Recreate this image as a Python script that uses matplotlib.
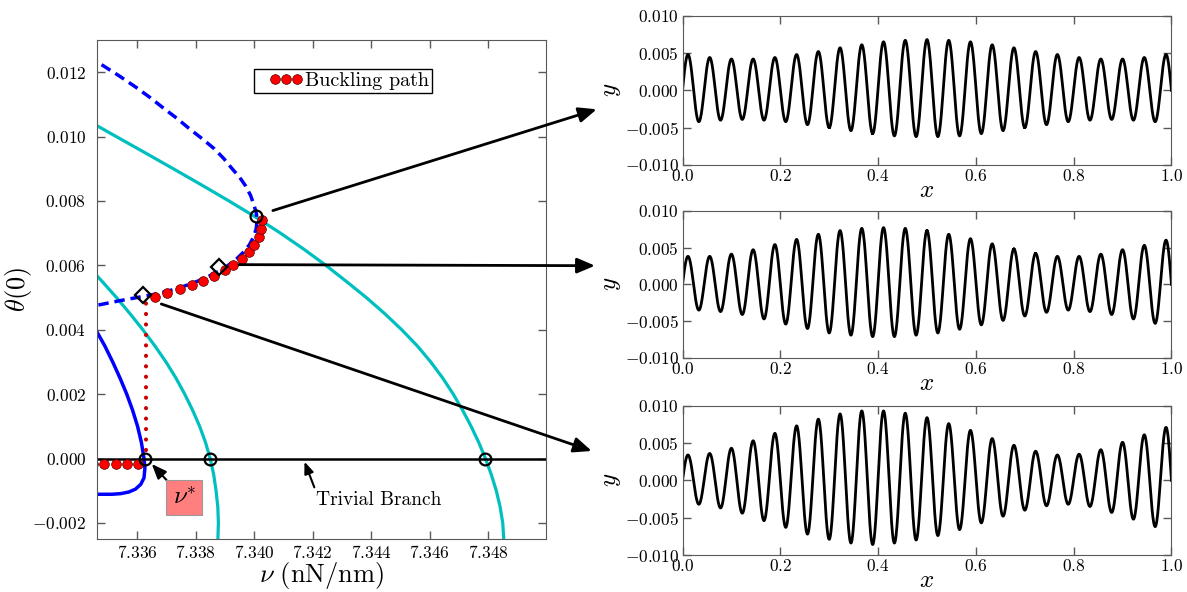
import numpy as np
import matplotlib
matplotlib.use("Agg")
import matplotlib.pyplot as plt
from matplotlib.ticker import FuncFormatter, MultipleLocator
from matplotlib.patches import ConnectionPatch
from matplotlib.legend_handler import HandlerLine2D

plt.rcParams['mathtext.fontset'] = 'cm'
plt.rcParams['font.family'] = 'serif'
plt.rcParams['font.serif'] = ['cmr10', 'DejaVu Serif']
plt.rcParams['axes.formatter.use_mathtext'] = True

trivial_pts = [7.33627, 7.3385, 7.3479]  # cerchi sul ramo banale

buck_nu = [7.33660, 7.33703, 7.33748, 7.33787, 7.33826, 7.33864, 7.33899,
           7.33928, 7.33957, 7.33982, 7.33999, 7.34015, 7.34022, 7.34027]
buck_th = [0.005008, 0.005132, 0.005257, 0.005390, 0.005505, 0.005670, 0.005857,
           0.006012, 0.006199, 0.006426, 0.006635, 0.006893, 0.007132, 0.007421]
flat_nu = [7.3345, 7.33489, 7.33528, 7.33567, 7.33605]
flat_th = [-0.000177] * 5
vert_nu = [7.33632, 7.33632]
vert_th = [0.00025, 0.00490]

# ramo instabile (tratteggiato)
dash_nu = [7.33479, 7.33540, 7.33595, 7.33645, 7.33693, 7.33737, 7.33779, 7.33823,
           7.33864, 7.33897, 7.33925, 7.33950, 7.33970, 7.33988, 7.34000, 7.34008,
           7.34010, 7.34007, 7.33998, 7.33984, 7.33965, 7.33940, 7.33910, 7.33880,
           7.33845, 7.33805, 7.33760, 7.33710, 7.33660, 7.33600, 7.33540, 7.33464]
dash_th = [0.012233, 0.011880, 0.011540, 0.011210, 0.010865, 0.010560, 0.010243,
           0.009930, 0.009621, 0.009310, 0.008999, 0.008740, 0.008480, 0.008170,
           0.007860, 0.007600, 0.007380, 0.007130, 0.006880, 0.006640, 0.006420,
           0.006200, 0.005990, 0.005820, 0.005660, 0.005500, 0.005350, 0.005210,
           0.005100, 0.005000, 0.004900, 0.004760]

blue_nu = [7.33464, 7.33490, 7.33517, 7.33542, 7.33565, 7.33585, 7.33602, 7.33615,
           7.33624, 7.33627, 7.33624, 7.33613, 7.33595, 7.33572, 7.33545, 7.33515,
           7.33464]
blue_th = [0.00392, 0.0035, 0.0030, 0.0025, 0.0020, 0.0015, 0.0010, 0.0005, 0.0,
           -0.0003, -0.0006, -0.0008, -0.00095, -0.00104, -0.00109, -0.00111, -0.00111]

cyan1_th = [0.0058, 0.0055, 0.0050, 0.0045, 0.0040, 0.0035, 0.0030, 0.0025, 0.0020,
            0.0015, 0.0010, 0.0005, 0.0, -0.0005, -0.0010, -0.0015, -0.0020, -0.0026]
cyan1_nu = [7.33451, 7.33481, 7.33530, 7.33576, 7.33620, 7.33661, 7.33699, 7.33733,
            7.33763, 7.33790, 7.33814, 7.33834, 7.33850, 7.33862, 7.33870, 7.33876,
            7.33878, 7.33876]
cyan2_th = [0.0104, 0.0100, 0.0095, 0.0090, 0.0085, 0.0080, 0.0075, 0.0070, 0.0065,
            0.0060, 0.0055, 0.0050, 0.0045, 0.0040, 0.0035, 0.0030, 0.0025, 0.0020,
            0.0015, 0.0010, 0.0005, 0.0, -0.0005, -0.0010, -0.0015, -0.0020, -0.0026]
cyan2_nu = [7.33451, 7.33529, 7.33627, 7.33724, 7.33820, 7.33914, 7.34005, 7.34090,
            7.34170, 7.34245, 7.34315, 7.34383, 7.34446, 7.34504, 7.34557, 7.34603,
            7.34644, 7.34680, 7.34712, 7.34741, 7.34767, 7.34790, 7.34810, 7.34827,
            7.34840, 7.34849, 7.34853]

top_circle = (7.34008, 0.007527)
diamonds_nu = [7.33621, 7.33879]
diamonds_th = [0.005089, 0.005960]

peaks_top = [0.0048, 0.0044, 0.0042, 0.0042, 0.0044, 0.0048, 0.0052, 0.0057, 0.0061,
             0.0065, 0.0067, 0.0068, 0.0067, 0.0065, 0.0061, 0.0057, 0.0052, 0.0048,
             0.0044, 0.0042, 0.0042, 0.0044, 0.0048]
troughs_top = [-0.0042, -0.0040, -0.0039, -0.0040, -0.0042, -0.0046, -0.0050, -0.0054,
               -0.0058, -0.0061, -0.0062, -0.0062, -0.0061, -0.0058, -0.0054, -0.0050,
               -0.0046, -0.0042, -0.0040, -0.0039, -0.0040, -0.0042]
peaks_mid = [0.0038, 0.0038, 0.0041, 0.0047, 0.0054, 0.0061, 0.0068, 0.0073, 0.0076,
             0.0077, 0.0076, 0.0073, 0.0068, 0.0062, 0.0055, 0.0048, 0.0042, 0.0038,
             0.0038, 0.0041, 0.0047, 0.0053, 0.0060]
troughs_mid = [-0.0035, -0.0037, -0.0041, -0.0047, -0.0054, -0.0060, -0.0066, -0.0069,
               -0.0071, -0.0071, -0.0069, -0.0066, -0.0061, -0.0055, -0.0049, -0.0043,
               -0.0038, -0.0035, -0.0037, -0.0041, -0.0047, -0.0053]
peaks_bot = [0.0034, 0.0036, 0.0043, 0.0053, 0.0063, 0.0073, 0.0082, 0.0089, 0.0093,
             0.0093, 0.0090, 0.0084, 0.0076, 0.0067, 0.0056, 0.0047, 0.0039, 0.0034,
             0.0035, 0.0041, 0.0051, 0.0061, 0.0071]
troughs_bot = [-0.0032, -0.0037, -0.0044, -0.0054, -0.0063, -0.0072, -0.0079, -0.0084,
               -0.0086, -0.0084, -0.0080, -0.0074, -0.0066, -0.0057, -0.0048, -0.0040,
               -0.0034, -0.0032, -0.0035, -0.0043, -0.0052, -0.0062]


def wave_from_extrema(peaks, troughs, n=40):
    # profilo liscio che passa per i massimi/minimi letti
    ext = []
    for i in range(len(troughs)):
        ext += [peaks[i], troughs[i]]
    ext.append(peaks[-1])
    m = len(ext)
    xe = (2 * np.arange(m) + 1) / (2 * m)
    xs, ys = [], []
    t = np.linspace(0, 1, n)
    xs.append(t * xe[0]); ys.append(ext[0] * np.sin(np.pi / 2 * t))
    for i in range(m - 1):
        a, b = ext[i], ext[i + 1]
        xs.append(xe[i] + t * (xe[i + 1] - xe[i]))
        ys.append(a + (b - a) * (1 - np.cos(np.pi * t)) / 2)
    xs.append(xe[-1] + t * (1 - xe[-1])); ys.append(ext[-1] * np.cos(np.pi / 2 * t))
    return np.concatenate(xs), np.concatenate(ys)


def math_fmt(fmt):
    return FuncFormatter(lambda v, p: '$' + (fmt % v) + '$')


def style_axes(ax):
    ax.tick_params(direction='in', top=True, right=True, length=6, width=1,
                   color='0.35', labelsize=12.5)
    for s in ax.spines.values():
        s.set_color('0.35')


fig = plt.figure(figsize=(11.87, 5.92), dpi=100)

# --- pannello sinistro ---
ax = fig.add_axes([0.0821, 0.0895, 0.3782, 0.843])
ax.plot(cyan1_nu, cyan1_th, color='c', lw=2.3)
ax.plot(cyan2_nu, cyan2_th, color='c', lw=2.3)
ax.plot(blue_nu, blue_th, color='b', lw=2.5)
ax.plot(dash_nu, dash_th, color='b', lw=2.5, ls=(0, (3, 1.7)))
ax.axhline(0, color='k', lw=1.8)
ax.plot(vert_nu, vert_th, color='#cc0000', lw=3, ls=(0, (0.01, 2.5)),
        dash_capstyle='round')
ax.plot(flat_nu, flat_th, 'o', color='r', mec='#550000', mew=0.5, ms=7)
buck_line, = ax.plot(buck_nu, buck_th, 'o', color='r', mec='#550000', mew=0.5, ms=7,
                     label='Buckling path')
ax.plot(trivial_pts, [0, 0, 0], 'o', mfc='none', mec='k', mew=1.6, ms=8.5)
ax.plot([top_circle[0]], [top_circle[1]], 'o', mfc='none', mec='k', mew=1.6, ms=8.5)
ax.plot(diamonds_nu, diamonds_th, 'D', mfc='none', mec='k', mew=1.6, ms=8.5)

ax.set_xlim(7.33465, 7.34998)
ax.set_ylim(-0.0025, 0.013)
ax.xaxis.set_major_locator(MultipleLocator(0.002))
ax.yaxis.set_major_locator(MultipleLocator(0.002))
ax.xaxis.set_major_formatter(math_fmt('%.3f'))
ax.yaxis.set_major_formatter(math_fmt('%.3f'))
style_axes(ax)
ax.tick_params(axis='x', pad=3.5)
ax.tick_params(axis='y', pad=8)
ax.set_xlabel(r'$\nu\ \mathrm{(nN/nm)}$', fontsize=19, labelpad=-0.5)
ax.set_ylabel(r'$\theta(0)$', fontsize=19, labelpad=-1.5)

leg = ax.legend(handles=[buck_line], loc='upper left', bbox_to_anchor=(0.2137, 0.8834),
                bbox_transform=fig.transFigure, borderaxespad=0,
                handler_map={buck_line: HandlerLine2D(numpoints=3, marker_pad=0.92)},
                fancybox=False, fontsize=14.5, handlelength=2.9, handletextpad=-0.5,
                borderpad=0.15, framealpha=1)
leg.get_frame().set_edgecolor('k')
leg.get_frame().set_linewidth(1)

ax.annotate('Trivial Branch', xy=(7.34172, -0.0001), xytext=(7.34425, -0.0013),
            ha='center', va='center', fontsize=14,
            arrowprops=dict(arrowstyle='-|>,head_length=0.5,head_width=0.2',
                            color='k', lw=1.5, relpos=(0.0, 1.0), shrinkA=1, shrinkB=0))
ax.annotate(r'$\nu^{*}$', xy=(7.33644, -0.000106), xytext=(7.33762, -0.00122),
            ha='center', va='center', fontsize=18,
            bbox=dict(boxstyle='square,pad=0.25', fc=(1, 0, 0, 0.5), ec='0.6', lw=0.8),
            arrowprops=dict(arrowstyle='-|>,head_length=0.5,head_width=0.2',
                            color='k', lw=1.5, relpos=(0.0, 1.0), shrinkA=0, shrinkB=2))

# --- pannelli di destra ---
right_boxes = [[0.575, 0.7213, 0.4119, 0.2522],
               [0.575, 0.3953, 0.4119, 0.2488],
               [0.575, 0.0625, 0.4119, 0.2522]]
profiles = [(peaks_top, troughs_top), (peaks_mid, troughs_mid), (peaks_bot, troughs_bot)]
right_axes = []
for box, (pk, tr) in zip(right_boxes, profiles):
    a = fig.add_axes(box)
    xw, yw = wave_from_extrema(pk, tr)
    a.plot(xw, yw, color='k', lw=2)
    a.set_xlim(0, 1)
    a.set_ylim(-0.01, 0.01)
    a.xaxis.set_major_locator(MultipleLocator(0.2))
    a.yaxis.set_major_locator(MultipleLocator(0.005))
    a.xaxis.set_major_formatter(math_fmt('%.1f'))
    a.yaxis.set_major_formatter(math_fmt('%.3f'))
    style_axes(a)
    a.tick_params(axis='x', pad=2)
    a.tick_params(axis='y', pad=2.5)
    a.set_xlabel('$x$', fontsize=18, labelpad=-3)
    a.set_ylabel('$y$', fontsize=18, labelpad=1)
    right_axes.append(a)

# frecce dal diagramma di biforcazione ai profili
arrow_starts = [(7.34064, 0.007701), (7.33948, 0.006022), (7.33683, 0.004800)]
arrow_ends = [(-0.1755, 0.373), (-0.179, 0.6266), (-0.1857, 0.6966)]
for a, p0, p1 in zip(right_axes, arrow_starts, arrow_ends):
    con = ConnectionPatch(xyA=p0, coordsA='data', axesA=ax,
                          xyB=p1, coordsB='axes fraction', axesB=a,
                          arrowstyle='-|>,head_length=0.4,head_width=0.17',
                          mutation_scale=27, color='k', lw=2, shrinkA=0, shrinkB=0)
    fig.add_artist(con)

fig.savefig('out.png', dpi=100)
